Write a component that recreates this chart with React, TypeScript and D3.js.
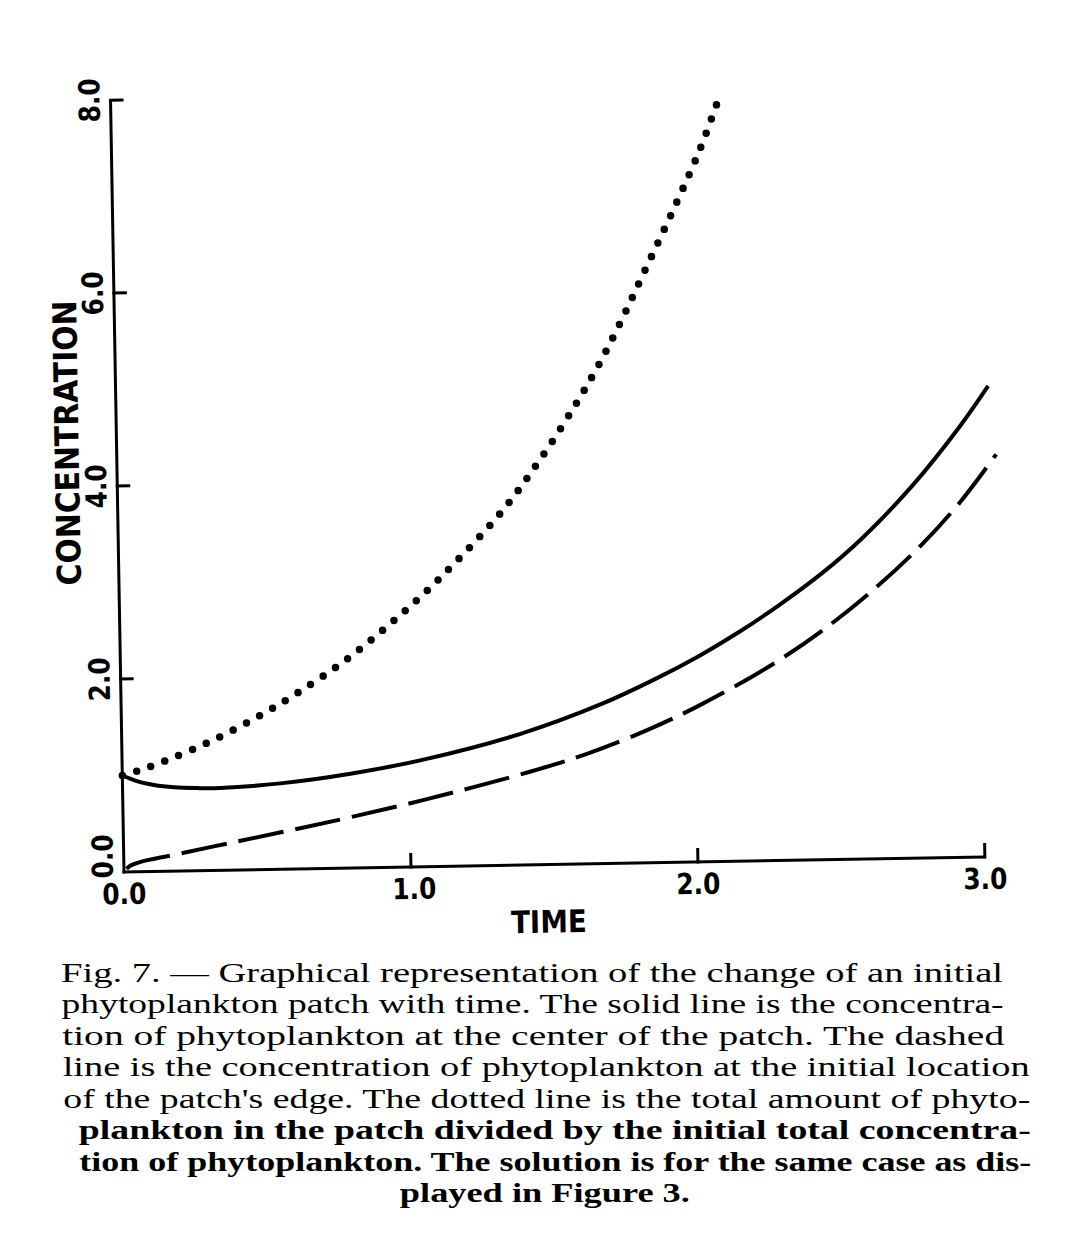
import React from 'react';
import * as d3 from 'd3';

// ---- data ----
const xTickValues = [0, 1, 2, 3];
const xTickLabels = ['0.0', '1.0', '2.0', '3.0'];
const yTickValues = [0, 2, 4, 6, 8];
const yTickLabels = ['0.0', '2.0', '4.0', '6.0', '8.0'];

// solid: concentration at the centre of the patch
const solidTime = [0, 0.05, 0.11, 0.18, 0.26, 0.34, 0.55, 0.8, 1.05, 1.39, 1.67, 1.86, 2.02, 2.16, 2.3, 2.45, 2.59, 2.77, 2.94, 3.04];
const solidConc = [1.0, 0.94, 0.895, 0.868, 0.856, 0.853, 0.89, 0.98, 1.11, 1.36, 1.65, 1.9, 2.14, 2.38, 2.65, 2.97, 3.32, 3.86, 4.47, 4.88];

// dashed: concentration at the initial location of the patch edge
const dashedTime = [0, 0.02, 0.056, 0.172, 0.36, 0.57, 0.79, 1.06, 1.42, 1.62, 1.835, 2.02, 2.264, 2.45, 2.64, 2.8, 2.935, 3.064];
const dashedConc = [0, 0.06, 0.1, 0.167, 0.275, 0.395, 0.525, 0.7, 0.965, 1.14, 1.38, 1.63, 2.02, 2.38, 2.82, 3.25, 3.68, 4.17];

// dotted: total amount / initial total
const dottedTime = [0, 0.07, 0.174, 0.318, 0.473, 0.613, 0.783, 0.949, 1.112, 1.339, 1.475, 1.597, 1.683, 1.762, 1.845, 1.96, 2.05, 2.113];
const dottedConc = [1.0, 1.06, 1.17, 1.35, 1.58, 1.82, 2.15, 2.54, 2.97, 3.67, 4.2, 4.74, 5.16, 5.6, 6.1, 6.8, 7.38, 7.86];

const xTitle = 'TIME';
const yTitle = 'CONCENTRATION';

const captionLines = [
  'Fig. 7. — Graphical representation of the change of an initial',
  'phytoplankton patch with time. The solid line is the concentra-',
  'tion of phytoplankton at the center of the patch. The dashed',
  'line is the concentration of phytoplankton at the initial location',
  "of the patch's edge. The dotted line is the total amount of phyto-",
  'plankton in the patch divided by the initial total concentra-',
  'tion of phytoplankton. The solution is for the same case as dis-',
  'played in Figure 3.',
];

const zip = (t: number[], v: number[]) => t.map((d, i) => [d, v[i]] as [number, number]);

export default function App() {
  const W = 1090;
  const H = 1246;
  const tilt = -1; // degrees: the whole figure sits slightly rotated
  const s = Math.sin((tilt * Math.PI) / 180);
  const x = d3.scaleLinear().domain([0, 3]).range([0, 861]);
  const y = d3.scaleLinear().domain([0, 8]).range([0, -772]);
  const line = d3
    .line<[number, number]>()
    .x((d) => x(d[0]))
    .y((d) => y(d[1]))
    .curve(d3.curveCatmullRom.alpha(0.5));

  const sans = "'DejaVu Sans', 'Liberation Sans', sans-serif";
  const serif = "'Liberation Serif', 'DejaVu Serif', serif";

  // caption layout (frame coordinates)
  const capLeft = [-65, -65, -65, -65, -65, -50, -50];
  const capRight = [877, 877, 877, 902, 902, 902, 902];
  const capTop = 117;
  const capStep = 31.5;

  return (
    <svg
      width={W}
      height={H}
      style={{ position: 'absolute', left: 0, top: 0, background: '#fff' }}
    >
      <rect x={0} y={0} width={W} height={H} fill="#fff" />
      <g transform={`translate(124,872) rotate(${tilt})`}>
        {/* axes */}
        <line x1={0} y1={y(0) + 1.5} x2={0} y2={y(8)} stroke="#000" strokeWidth={3} />
        <line x1={x(0) - 1.5} y1={0} x2={x(3)} y2={0} stroke="#000" strokeWidth={3} />
        {yTickValues
          .filter((v) => v > 0)
          .map((v) => (
            <line key={'yt' + v} x1={-1.5} x2={13} y1={y(v)} y2={y(v)} stroke="#000" strokeWidth={3} />
          ))}
        {xTickValues
          .filter((v) => v > 0)
          .map((v) => (
            <line key={'xt' + v} x1={x(v)} x2={x(v)} y1={1.5} y2={-14} stroke="#000" strokeWidth={3} />
          ))}
        {/* tick labels */}
        {xTickValues.map((v, i) => (
          <text
            key={'xl' + v}
            x={x(v) + (v === 1 ? 3 : 0)}
            y={32}
            fontFamily={sans}
            fontSize={29}
            fontWeight="bold"
            textAnchor="middle"
            textLength={44}
            lengthAdjust="spacingAndGlyphs"
          >
            {xTickLabels[i]}
          </text>
        ))}
        {yTickValues.map((v, i) => (
          <text
            key={'yl' + v}
            transform={`translate(-11,${y(v) + (v === 0 ? -16 : 0)}) rotate(-90)`}
            fontFamily={sans}
            fontSize={29}
            fontWeight="bold"
            textAnchor="middle"
            textLength={44}
            lengthAdjust="spacingAndGlyphs"
          >
            {yTickLabels[i]}
          </text>
        ))}
        {/* axis titles */}
        <text
          x={424}
          y={68}
          fontFamily={sans}
          fontSize={31}
          fontWeight="bold"
          textAnchor="middle"
          textLength={76}
          lengthAdjust="spacingAndGlyphs"
        >
          {xTitle}
        </text>
        <text
          transform={`translate(-38,-430) rotate(-90)`}
          fontFamily={sans}
          fontSize={33}
          fontWeight="bold"
          textAnchor="middle"
          textLength={285}
          lengthAdjust="spacingAndGlyphs"
        >
          {yTitle}
        </text>

        {/* curves */}
        <path d={line(zip(solidTime, solidConc)) || ''} fill="none" stroke="#000" strokeWidth={4} />
        <path
          d={line(zip(dashedTime, dashedConc)) || ''}
          fill="none"
          stroke="#000"
          strokeWidth={4}
          strokeDasharray="46 12"
          strokeDashoffset={-4}
        />
        <path
          d={line(zip(dottedTime, dottedConc)) || ''}
          fill="none"
          stroke="#000"
          strokeWidth={7.5}
          strokeLinecap="round"
          strokeDasharray="0 15"
        />
      </g>

      {/* caption: placed along the tilted frame, glyphs kept level */}
      <g transform="translate(124,872)">
        {captionLines.map((str, i) => {
          const yy = capTop + i * capStep;
          const bold = i >= 5;
          const last = i === captionLines.length - 1;
          const left = last ? 415 - 145 : capLeft[i];
          const right = last ? 415 + 145 : capRight[i];
          const mid = (left + right) / 2;
          // position of the line start in page frame after tilt
          const px = left - yy * s;
          const py = yy + mid * s;
          return (
            <text
              key={'c' + i}
              x={px}
              y={py}
              fontFamily={serif}
              fontSize={27}
              fontWeight={bold ? 'bold' : 'normal'}
              textLength={right - left}
              lengthAdjust="spacingAndGlyphs"
            >
              {str}
            </text>
          );
        })}
      </g>
    </svg>
  );
}
